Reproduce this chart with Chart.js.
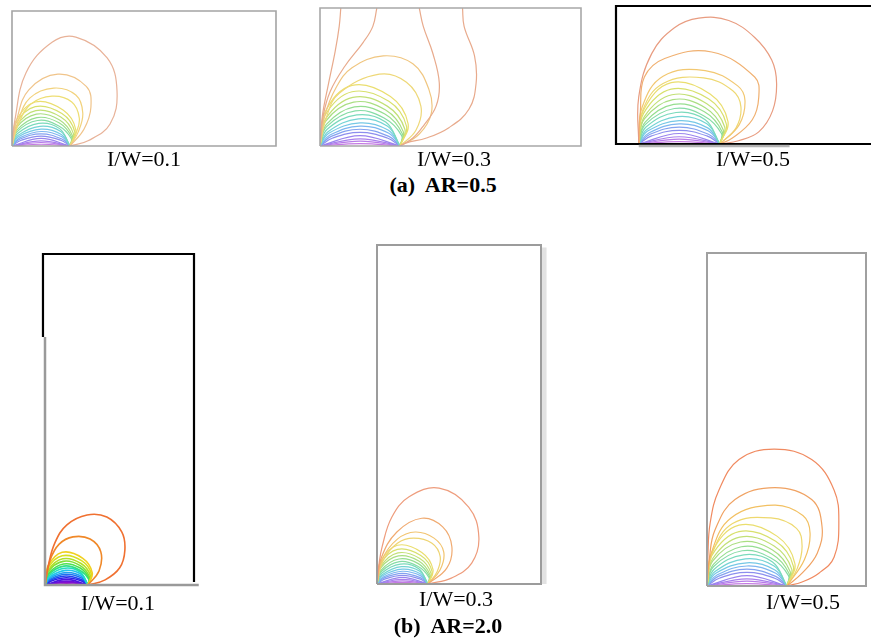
<!DOCTYPE html>
<html lang="en">
<head>
<meta charset="UTF-8">
<title>Isotherms, AR=0.5 and AR=2.0</title>
<script src="https://cdn.jsdelivr.net/npm/chart.js"></script>
<style>
  body { margin: 0; width: 871px; height: 643px; overflow: hidden; background: #fff; position: relative;
         font-family: "Liberation Serif", "Times New Roman", serif; }
  canvas { position: absolute; }
  .cap { position: absolute; font-size: 22px; line-height: 1; white-space: pre; transform: translateX(-50%); color: #000; }
  .title { font-weight: bold; }
</style>
</head>
<body>
<script>
// all coordinates in units where the heater length = 100, origin at the left end of the heater
const ratioLabels = ['I/W=0.1', 'I/W=0.3', 'I/W=0.5'];
const caseTitles = ['(a)  AR=0.5', '(b)  AR=2.0'];

// inner isotherms, nearly the same shape in every case (outer -> inner)
const sharedIsotherms = [
  [[0,0],[6,42],[40,76],[88,62],[110,28],[100,0]],
  [[0,0],[6,38],[40,68],[86,56],[108,25],[100,0]],
  [[0,0],[7,34],[41,61],[84,50],[106,21],[100,0]],
  [[0,0],[7,31],[42,55],[82,45],[104,18],[100,0]],
  [[0,0],[8,27],[43,49],[81,40],[103,15],[100,0]],
  [[0,0],[8,24],[44,44],[80,35],[102,13],[100,0]],
  [[0,0],[9,21],[46,39],[82,30],[100,0]],
  [[0,0],[10,18],[48,34],[84,25],[100,0]],
  [[0,0],[11,16],[50,29],[85,20],[100,0]],
  [[0,0],[13,14],[50,25],[86,16],[100,0]],
  [[0,0],[14,12],[50,21],[86,12],[100,0]],
  [[0,0],[16,10],[50,17],[84,10],[100,0]],
  [[0,0],[50,13],[100,0]],
  [[0,0],[50,9],[100,0]],
  [[0,0],[50,6],[100,0]],
  [[0,0],[50,3],[100,0]]
];

// outer isotherms per case
const a1Outer = [
  [[0,0],[5,45],[24,126],[69,179],[110,188],[164,152],[181,95],[169,38],[131,9],[100,0]],
  [[0,0],[8,45],[29,97],[79,124],[128,103],[136,67],[124,29],[100,0]],
  [[0,0],[10,41],[31,83],[72,100],[110,88],[122,57],[114,24],[100,0]],
  [[0,0],[11,38],[32,72],[69,86],[103,76],[116,48],[110,21],[100,0]]
];
const a2Outer = [
  [[0,0],[3,38],[10,75],[19,119],[24,150],[26,173]],
  [[0,0],[4,38],[13,69],[31,100],[54,130],[66,150],[71,173]],
  [[100,0],[116,10],[129,25],[145,50],[149,79],[141,116],[129,150],[124,173]],
  [[100,0],[108,4],[133,10],[161,23],[186,46],[195,79],[193,113],[180,150],[178,173]],
  [[0,0],[6,38],[20,73],[40,98],[79,113],[116,103],[136,71],[139,41],[124,15],[100,0]],
  [[0,0],[8,36],[24,66],[74,90],[108,80],[126,50],[120,20],[100,0]]
];
const a3Outer = [
  [[0,0],[0,58],[16,112],[44,144],[74,156],[111,153],[143,132],[164,104],[170,75],[165,41],[148,15],[123,4],[100,0]],
  [[0,0],[2,40],[7,83],[32,106],[90,114],[143,83],[148,58],[140,30],[115,7],[100,0]],
  [[0,0],[4,45],[30,84],[82,91],[122,72],[131,54],[124,24],[100,0]],
  [[0,0],[5,42],[30,75],[80,82],[116,66],[126,46],[120,20],[100,0]]
];
const b1Outer = [
  [[0,0],[7,42],[23,98],[51,140],[98,163],[144,158],[179,123],[186,81],[174,40],[140,12],[100,0]],
  [[0,0],[12,58],[33,95],[65,112],[105,107],[130,77],[126,33],[100,0]]
];
const b2Outer = [
  [[0,0],[4,39],[10,73],[29,131],[63,171],[122,188],[180,151],[200,92],[186,41],[147,12],[100,0]],
  [[0,0],[8,50],[39,102],[88,129],[129,112],[147,73],[137,31],[100,0]],
  [[0,0],[10,48],[40,88],[75,102],[112,90],[131,63],[124,28],[100,0]],
  [[0,0],[12,46],[40,80],[72,90],[108,80],[124,54],[118,24],[100,0]]
];
const b3Outer = [
  [[0,0],[1,36],[4,79],[15,120],[40,158],[84,171],[131,158],[159,120],[165,79],[159,36],[140,16],[119,5],[100,0]],
  [[0,0],[3,35],[10,70],[35,108],[85,123],[131,108],[144,74],[138,41],[119,16],[100,0]],
  [[0,0],[5,40],[30,85],[84,101],[120,88],[129,66],[122,33],[100,0]],
  [[0,0],[7,42],[32,78],[80,85],[112,72],[119,50],[113,22],[100,0]]
];

const paleColors = ['#eade6e','#d8e06c','#c2e076','#aade82','#96de90','#86dca6','#7adabc','#74d4d4',
                    '#76c8e6','#7eb6f0','#84a2f0','#8c8eee','#9a84ee','#aa80ec','#b87ce8','#c47ae2'];
const vividColors = ['#f0d020','#d8e020','#b0e028','#80e038','#50e050','#30e088','#20dcc0','#20c4ec',
                     '#20a0f0','#2070f0','#2040f0','#3020e8','#5014e0','#7010d8','#8810cc','#9a10c0'];

const panels = [
  { area: [12, 11, 264, 135], x: [0, 455], y: [0, 233], outer: a1Outer,
    outerColors: ['#e8b298','#f0c48a','#f2d27c','#eede74'], palette: paleColors, lw: 1.2,
    frame: [{ pts: [[0,0],[455,0],[455,233],[0,233],[0,0]], color: '#a4a4a4', width: 1.6 }] },
  { area: [320, 8, 261, 138], x: [0, 326], y: [0, 173], outer: a2Outer,
    outerColors: ['#e8aa8c','#e8aa8c','#e8aa8c','#e8aa8c','#f0c680','#eed878'], palette: paleColors, lw: 1.2,
    frame: [{ pts: [[0,0],[326,0],[326,173],[0,173],[0,0]], color: '#a8a8a8', width: 1.6 }] },
  { area: [616, 6, 262, 138], x: [-28, 295], y: [0, 171], outer: a3Outer,
    outerColors: ['#e89c80','#f0b070','#f2c872','#eed872'], palette: paleColors, lw: 1.2,
    frame: [{ pts: [[295,0],[-28,0],[-28,171],[295,171]], color: '#000', width: 2.2 },
            { pts: [[0,-2.5],[186,-2.5]], color: '#b4b4b4', width: 2.5 }] },
  { area: [45, 254, 149, 331], x: [0, 347], y: [0, 770], outer: b1Outer,
    outerColors: ['#f07030','#f08828'], palette: vividColors, lw: 1.6,
    frame: [{ pts: [[-4.7,577],[-4.7,770],[347,770],[347,7]], color: '#000', width: 2.2 },
            { pts: [[0,577],[0,0],[358,0]], color: '#9a9a9a', width: 2.5 }] },
  { area: [377, 245, 164, 339], x: [0, 322], y: [0, 665], outer: b2Outer,
    outerColors: ['#ee9c7c','#f0aa70','#f2c470','#eed472'], palette: paleColors, lw: 1.2,
    frame: [{ pts: [[328,0],[328,660]], color: '#e2e2e2', width: 5 },
            { pts: [[0,0],[322,0],[322,665],[0,665],[0,0]], color: '#9c9c9c', width: 2 }] },
  { area: [707, 253, 159, 333], x: [0, 199], y: [0, 416], outer: b3Outer,
    outerColors: ['#f08a60','#f0a262','#f2c062','#eed86e'], palette: paleColors, lw: 1.2,
    frame: [{ pts: [[0,0],[199,0],[199,416],[0,416],[0,0]], color: '#a0a0a0', width: 2 }] }
];

function isoLine(pts, color, lw) {
  return { data: pts.map(p => ({ x: p[0], y: p[1] })), borderColor: color, borderWidth: lw,
           showLine: true, pointRadius: 0, tension: 0.4, fill: false };
}

function framePlugin(paths) {
  return {
    id: 'frame',
    afterDatasetsDraw(chart) {
      const { ctx, scales } = chart;
      paths.forEach(f => {
        ctx.save();
        ctx.strokeStyle = f.color;
        ctx.lineWidth = f.width;
        ctx.beginPath();
        f.pts.forEach((p, i) => {
          const px = scales.x.getPixelForValue(p[0]), py = scales.y.getPixelForValue(p[1]);
          if (i) ctx.lineTo(px, py); else ctx.moveTo(px, py);
        });
        ctx.stroke();
        ctx.restore();
      });
    }
  };
}

const pad = 8;
panels.forEach(p => {
  const c = document.createElement('canvas');
  c.width = p.area[2] + 2 * pad;
  c.height = p.area[3] + 2 * pad;
  c.style.left = (p.area[0] - pad) + 'px';
  c.style.top = (p.area[1] - pad) + 'px';
  document.body.appendChild(c);

  const sets = p.outer.map((pts, i) => isoLine(pts, p.outerColors[i], p.lw))
    .concat(sharedIsotherms.map((pts, i) => isoLine(pts, p.palette[i], p.lw)));

  new Chart(c, {
    type: 'scatter',
    data: { datasets: sets },
    options: {
      responsive: false, animation: false, devicePixelRatio: 1,
      layout: { padding: pad },
      plugins: { legend: { display: false }, tooltip: { enabled: false } },
      scales: {
        x: { type: 'linear', display: false, min: p.x[0], max: p.x[1] },
        y: { type: 'linear', display: false, min: p.y[0], max: p.y[1] }
      }
    },
    plugins: [framePlugin(p.frame)]
  });
});

// captions under each panel and the case titles
const capPos = [[144, 148], [454, 148], [753, 148], [118, 592], [456, 588], [803, 591]];
capPos.forEach((pos, i) => {
  const d = document.createElement('div');
  d.className = 'cap';
  d.textContent = ratioLabels[i % 3];
  d.style.left = pos[0] + 'px';
  d.style.top = pos[1] + 'px';
  document.body.appendChild(d);
});
[[443, 174], [448, 615]].forEach((pos, i) => {
  const d = document.createElement('div');
  d.className = 'cap title';
  d.textContent = caseTitles[i];
  d.style.left = pos[0] + 'px';
  d.style.top = pos[1] + 'px';
  document.body.appendChild(d);
});
</script>
</body>
</html>
